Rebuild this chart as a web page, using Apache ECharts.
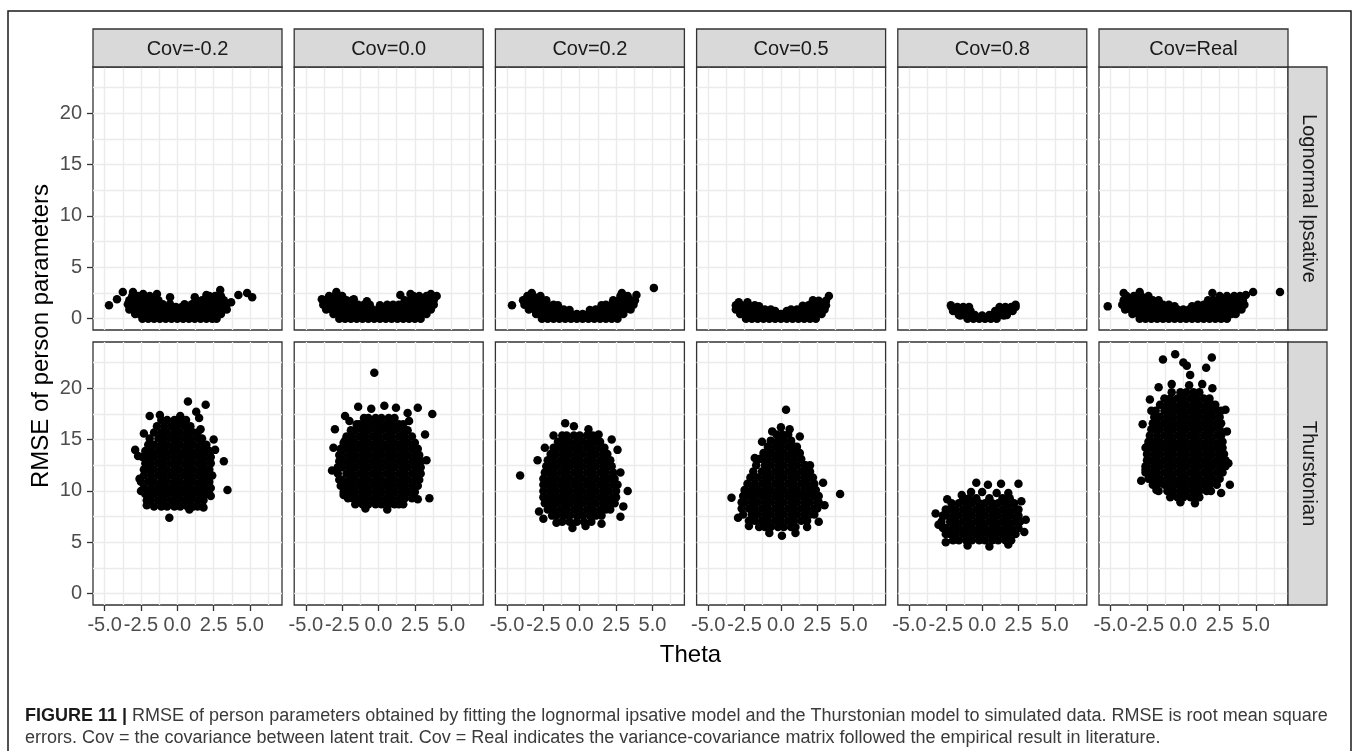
<!DOCTYPE html>
<html>
<head>
<meta charset="utf-8">
<script src="https://cdn.jsdelivr.net/npm/echarts@6/dist/echarts.min.js"></script>
<style>
html, body { margin: 0; padding: 0; background: #fff; }
#chart { width: 1355px; height: 751px; }
</style>
</head>
<body>
<div id="chart"></div>
<script>
// ---- facet labels and axis ticks ----
const covLabels = ['Cov=-0.2', 'Cov=0.0', 'Cov=0.2', 'Cov=0.5', 'Cov=0.8', 'Cov=Real'];
const modelLabels = ['Lognormal Ipsative', 'Thurstonian'];
const xTickValues = [-5, -2.5, 0, 2.5, 5];
const yTickValues = [0, 5, 10, 15, 20];
const xGridValues = [-5, -3.75, -2.5, -1.25, 0, 1.25, 2.5, 3.75, 5, 6.25];
const yGridValues = [0, 2.5, 5, 7.5, 10, 12.5, 15, 17.5, 20, 22.5];
const xRange = [-5.8, 7.2];
const yRange = [-1.1, 24.5];

// ---- Lognormal ipsative: dense band as rows [rmse, theta, theta, ...] plus loose points [theta, rmse] ----
const lognormalCovM02Rows = [
  [0.0, -2.4, -2.0, -1.6, -1.2, -0.8, -0.4, 0.0, 0.4, 0.8, 1.2, 1.6, 2.0, 2.4, 2.7],
  [0.45, -2.9, -2.6, -2.2, -1.8, -1.4, -1.0, -0.6, -0.2, 0.2, 0.6, 1.0, 1.4, 1.8, 2.2, 2.6, 3.0],
  [0.9, -3.3, -2.9, -2.5, -2.1, -1.7, -1.3, -0.9, -0.5, -0.1, 0.3, 0.7, 1.1, 1.5, 1.9, 2.3, 2.7, 3.1, 3.4],
  [1.15, -0.9, -0.5, -0.1, 0.3, 0.7, 1.1],
  [1.4, -3.4, -3.0, -2.6, -2.2, -1.8, -1.4, -1.0, -0.5, 0.5, 1.0, 1.4, 1.8, 2.2, 2.6, 3.0, 3.4],
  [1.8, -3.3, -2.9, -2.5, -2.1, -1.7, -1.3, 1.3, 1.7, 2.1, 2.5, 2.9, 3.2],
  [2.2, -3.1, -2.7, -2.3, -1.9, 2.2, 2.6, 3.0]
];
const lognormalCovM02Loose = [[-4.7, 1.3], [-4.15, 1.9], [-3.75, 2.6], [-3.05, 2.6], [-2.35, 2.4], [-1.4, 2.4], [-0.5, 2.1], [2.95, 2.8], [3.7, 1.6], [4.2, 2.3], [4.8, 2.5], [5.15, 2.1], [1.2, 2.1], [2.0, 2.3]];

const lognormalCov00Rows = [
  [0.0, -2.7, -2.3, -1.9, -1.5, -1.1, -0.7, -0.3, 0.1, 0.5, 0.9, 1.3, 1.7, 2.1, 2.5, 2.9],
  [0.45, -3.1, -2.7, -2.3, -1.9, -1.5, -1.1, -0.7, -0.3, 0.1, 0.5, 0.9, 1.3, 1.7, 2.1, 2.5, 2.9, 3.3],
  [0.9, -3.6, -3.2, -2.8, -2.4, -2.0, -1.6, -1.2, -0.8, -0.4, 0.0, 0.4, 0.8, 1.2, 1.6, 2.0, 2.4, 2.8, 3.2, 3.6],
  [1.35, -3.8, -3.4, -3.0, -2.6, -2.2, -1.8, -1.4, -1.0, -0.6, 0.6, 1.0, 1.4, 1.8, 2.2, 2.6, 3.0, 3.4, 3.8],
  [1.8, -3.8, -3.4, -3.0, -2.6, -2.2, -1.8, 1.8, 2.2, 2.6, 3.0, 3.4, 3.8],
  [2.2, -3.4, -3.0, -2.5, 2.4, 2.8, 3.3]
];
const lognormalCov00Loose = [[-2.9, 2.6], [-1.7, 1.9], [-0.8, 1.7], [0.1, 1.3], [1.5, 2.3], [2.2, 2.4], [3.6, 2.4], [4.0, 2.2], [-3.9, 1.9]];

const lognormalCov02Rows = [
  [0.0, -2.6, -2.2, -1.8, -1.4, -1.0, -0.6, -0.2, 0.2, 0.6, 1.0, 1.4, 1.8, 2.2, 2.6],
  [0.45, -3.0, -2.6, -2.2, -1.8, -1.4, -1.0, -0.6, -0.2, 0.2, 0.6, 1.0, 1.4, 1.8, 2.2, 2.6, 3.0],
  [0.9, -3.5, -3.1, -2.7, -2.3, -1.9, -1.5, -1.1, 1.1, 1.5, 1.9, 2.3, 2.7, 3.1, 3.5],
  [1.35, -3.8, -3.4, -3.0, -2.6, -2.2, -1.8, 1.8, 2.2, 2.6, 3.0, 3.4, 3.7],
  [1.8, -3.9, -3.5, -3.1, -2.7, -2.3, 2.3, 2.7, 3.1, 3.5, 3.8],
  [2.2, -3.6, -3.2, -2.7, 2.8, 3.3]
];
const lognormalCov02Loose = [[-4.66, 1.3], [5.1, 3.0], [-3.3, 2.5], [3.9, 2.3], [-0.7, 0.85], [0.7, 0.85], [-1.5, 1.3], [1.5, 1.3], [2.9, 2.5]];

const lognormalCov05Rows = [
  [0.0, -2.4, -2.0, -1.6, -1.2, -0.8, -0.4, 0.0, 0.4, 0.8, 1.2, 1.6, 2.0, 2.4],
  [0.45, -2.8, -2.4, -2.0, -1.6, -1.2, -0.8, -0.4, 0.0, 0.4, 0.8, 1.2, 1.6, 2.0, 2.4, 2.8],
  [0.9, -3.1, -2.7, -2.3, -1.9, -1.5, -1.1, -0.7, 0.7, 1.1, 1.5, 1.9, 2.3, 2.7, 3.0],
  [1.3, -3.1, -2.7, -2.3, -1.8, 1.9, 2.3, 2.7, 3.1],
  [1.75, 2.6, 3.1]
];
const lognormalCov05Loose = [[3.3, 2.2], [-2.9, 1.6], [-0.4, 0.75], [0.4, 0.75], [-1.5, 1.2], [1.5, 1.25], [2.2, 1.8], [-2.3, 1.6]];

const lognormalCov08Rows = [
  [0.0, -1.0, -0.6, -0.2, 0.2, 0.6, 1.0],
  [0.35, -1.6, -1.3, -0.9, -0.5, 0.5, 0.9, 1.3, 1.7],
  [0.75, -2.0, -1.6, -1.2, -0.8, 0.9, 1.3, 1.7, 2.1],
  [1.15, -2.1, -1.7, -1.3, -0.9, 1.2, 1.6, 2.0, 2.3]
];
const lognormalCov08Loose = [[2.3, 1.35], [-0.5, 0.2], [0.5, 0.25], [-1.5, 0.3], [1.5, 0.3], [-2.15, 1.3], [0.0, 0.3]];

const lognormalCovRealRows = [
  [0.0, -3.0, -2.6, -2.2, -1.8, -1.4, -1.0, -0.6, -0.2, 0.2, 0.6, 1.0, 1.4, 1.8, 2.2, 2.6, 3.0],
  [0.45, -3.5, -3.1, -2.7, -2.3, -1.9, -1.5, -1.1, -0.7, -0.3, 0.1, 0.5, 0.9, 1.3, 1.7, 2.1, 2.5, 2.9, 3.3, 3.6],
  [0.9, -4.0, -3.6, -3.2, -2.8, -2.4, -2.0, -1.6, -1.2, -0.8, -0.4, 0.0, 0.4, 0.8, 1.2, 1.6, 2.0, 2.4, 2.8, 3.2, 3.6, 4.0],
  [1.35, -4.2, -3.8, -3.4, -3.0, -2.6, -2.2, -1.8, -1.4, -1.0, 1.0, 1.4, 1.8, 2.2, 2.6, 3.0, 3.4, 3.8, 4.2],
  [1.8, -4.1, -3.7, -3.3, -2.9, -2.5, -2.1, -1.7, 1.7, 2.1, 2.5, 2.9, 3.3, 3.7, 4.1],
  [2.2, -3.9, -3.4, -2.9, -2.4, 2.5, 3.0, 3.5, 3.9]
];
const lognormalCovRealLoose = [[-5.2, 1.2], [4.8, 2.6], [6.65, 2.6], [-4.1, 2.5], [4.3, 2.3], [-0.6, 1.2], [0.6, 1.2], [-3.0, 2.6], [2.0, 2.5]];

// ---- Thurstonian: dense clouds as rows [rmse, theta, ...] plus loose points [theta, rmse] ----
const thurstonianCovM02Rows = [
  [8.5, -1.6, -1.1, -0.7, -0.2, 0.2, 0.7, 1.1, 1.4],
  [9.1, -2.1, -1.8, -1.3, -0.9, -0.4, 0.0, 0.5, 0.9, 1.4, 1.8],
  [9.7, -2.2, -2.0, -1.6, -1.1, -0.7, -0.2, 0.2, 0.7, 1.1, 1.6, 2.0, 2.2],
  [10.3, -2.3, -1.8, -1.3, -0.9, -0.4, 0.0, 0.5, 0.9, 1.4, 1.8, 2.3],
  [10.9, -2.5, -2.0, -1.6, -1.1, -0.7, -0.2, 0.2, 0.7, 1.1, 1.6, 2.0, 2.2],
  [11.5, -2.3, -1.8, -1.3, -0.9, -0.4, 0.0, 0.5, 0.9, 1.4, 1.8, 2.1],
  [12.1, -2.3, -2.0, -1.6, -1.1, -0.7, -0.2, 0.2, 0.7, 1.1, 1.6, 2.0, 2.2],
  [12.7, -2.2, -1.8, -1.3, -0.9, -0.4, 0.0, 0.5, 0.9, 1.4, 1.8, 2.3],
  [13.3, -2.4, -2.0, -1.6, -1.1, -0.7, -0.2, 0.2, 0.7, 1.1, 1.6, 2.0, 2.3],
  [13.9, -2.2, -1.8, -1.3, -0.9, -0.4, 0.0, 0.5, 0.9, 1.4, 1.8, 2.2],
  [14.5, -2.0, -1.6, -1.1, -0.7, -0.2, 0.2, 0.7, 1.1, 1.6, 2.0],
  [15.1, -1.9, -1.3, -0.9, -0.4, 0.0, 0.5, 0.9, 1.4, 1.7],
  [15.7, -1.6, -1.1, -0.7, -0.2, 0.2, 0.7, 1.1, 1.4],
  [16.3, -1.4, -0.9, -0.4, 0.0, 0.5, 0.9],
  [16.9, -1.1, -0.7, -0.2, 0.2, 0.6]
];
const thurstonianCovM02Loose = [[0.73, 18.7], [1.95, 18.4], [1.3, 17.7], [1.5, 17.1], [-1.9, 17.3], [-2.9, 14.0], [-2.7, 13.4], [2.6, 14.0], [2.5, 15.0], [3.2, 12.9], [3.45, 10.1], [-0.55, 7.4], [1.8, 8.4], [0.83, 8.2], [-2.1, 8.6], [-2.6, 11.2], [2.4, 11.5], [-2.3, 15.6], [-1.2, 17.4], [0.2, 17.3], [1.6, 16.0], [2.3, 9.5], [-2.5, 10.0]];

const thurstonianCov00Rows = [
  [8.7, -1.6, -1.1, -0.7, -0.2, 0.2, 0.7, 1.1, 1.4],
  [9.3, -2.1, -1.8, -1.3, -0.9, -0.4, 0.0, 0.5, 0.9, 1.4, 1.8, 2.3],
  [9.9, -2.4, -2.0, -1.6, -1.1, -0.7, -0.2, 0.2, 0.7, 1.1, 1.6, 2.0, 2.5],
  [10.5, -2.6, -2.2, -1.8, -1.3, -0.9, -0.4, 0.0, 0.5, 0.9, 1.4, 1.8, 2.3, 2.7],
  [11.1, -2.7, -2.5, -2.0, -1.6, -1.1, -0.7, -0.2, 0.2, 0.7, 1.1, 1.6, 2.0, 2.5, 2.8],
  [11.7, -2.8, -2.2, -1.8, -1.3, -0.9, -0.4, 0.0, 0.5, 0.9, 1.4, 1.8, 2.3, 2.7, 2.9],
  [12.3, -2.8, -2.5, -2.0, -1.6, -1.1, -0.7, -0.2, 0.2, 0.7, 1.1, 1.6, 2.0, 2.5, 2.9],
  [12.9, -2.7, -2.2, -1.8, -1.3, -0.9, -0.4, 0.0, 0.5, 0.9, 1.4, 1.8, 2.3, 2.7, 2.9],
  [13.5, -2.7, -2.5, -2.0, -1.6, -1.1, -0.7, -0.2, 0.2, 0.7, 1.1, 1.6, 2.0, 2.5, 2.8],
  [14.1, -2.6, -2.2, -1.8, -1.3, -0.9, -0.4, 0.0, 0.5, 0.9, 1.4, 1.8, 2.3, 2.7],
  [14.7, -2.4, -2.0, -1.6, -1.1, -0.7, -0.2, 0.2, 0.7, 1.1, 1.6, 2.0, 2.5],
  [15.3, -2.2, -1.8, -1.3, -0.9, -0.4, 0.0, 0.5, 0.9, 1.4, 1.8, 2.3],
  [15.9, -1.9, -1.6, -1.1, -0.7, -0.2, 0.2, 0.7, 1.1, 1.6, 2.0],
  [16.5, -1.5, -1.3, -0.9, -0.4, 0.0, 0.5, 0.9, 1.4, 1.7],
  [17.1, -1.0, -0.7, -0.2, 0.2, 0.7, 1.1]
];
const thurstonianCov00Loose = [[-0.29, 21.5], [-3.0, 16.0], [-2.3, 17.3], [-2.3, 14.9], [-2.0, 16.8], [-3.1, 14.2], [-1.4, 18.2], [-0.5, 18.0], [0.4, 18.3], [1.2, 18.1], [2.7, 18.1], [2.0, 17.6], [3.7, 17.5], [3.2, 15.5], [3.3, 13.0], [3.5, 9.3], [2.7, 9.2], [1.7, 8.7], [-2.4, 9.6], [-3.2, 12.0], [-0.9, 8.3], [0.6, 8.2], [2.1, 16.8]];

const thurstonianCov02Rows = [
  [7.0, -1.2, -0.7, -0.2, 0.3, 0.8],
  [7.6, -1.9, -1.6, -1.1, -0.7, -0.2, 0.2, 0.7, 1.1, 1.5],
  [8.2, -2.2, -1.8, -1.3, -0.9, -0.4, 0.0, 0.5, 0.9, 1.4, 1.8, 2.1],
  [8.8, -2.4, -2.0, -1.6, -1.1, -0.7, -0.2, 0.2, 0.7, 1.1, 1.6, 2.0, 2.4],
  [9.4, -2.5, -2.2, -1.8, -1.3, -0.9, -0.4, 0.0, 0.5, 0.9, 1.4, 1.8, 2.3, 2.5],
  [10.0, -2.5, -2.0, -1.6, -1.1, -0.7, -0.2, 0.2, 0.7, 1.1, 1.6, 2.0, 2.5],
  [10.6, -2.5, -2.2, -1.8, -1.3, -0.9, -0.4, 0.0, 0.5, 0.9, 1.4, 1.8, 2.3, 2.6],
  [11.2, -2.5, -2.0, -1.6, -1.1, -0.7, -0.2, 0.2, 0.7, 1.1, 1.6, 2.0, 2.4],
  [11.8, -2.4, -2.2, -1.8, -1.3, -0.9, -0.4, 0.0, 0.5, 0.9, 1.4, 1.8, 2.3],
  [12.4, -2.3, -2.0, -1.6, -1.1, -0.7, -0.2, 0.2, 0.7, 1.1, 1.6, 2.0, 2.2],
  [13.0, -2.2, -1.8, -1.3, -0.9, -0.4, 0.0, 0.5, 0.9, 1.4, 1.8, 2.1],
  [13.6, -2.0, -1.6, -1.1, -0.7, -0.2, 0.2, 0.7, 1.1, 1.6, 1.9],
  [14.2, -1.8, -1.3, -0.9, -0.4, 0.0, 0.5, 0.9, 1.4, 1.7],
  [14.8, -1.5, -1.1, -0.7, -0.2, 0.2, 0.7, 1.1, 1.4],
  [15.4, -1.2, -0.9, -0.4, 0.0, 0.5, 0.9]
];
const thurstonianCov02Loose = [[-4.1, 11.5], [-1.0, 16.6], [-0.4, 16.3], [0.6, 16.0], [1.3, 15.5], [-2.4, 14.2], [-2.9, 13.0], [2.6, 14.0], [3.3, 10.0], [3.0, 8.5], [2.8, 7.5], [-2.8, 8.0], [-2.5, 7.3], [-0.5, 6.4], [0.4, 6.6], [1.5, 6.8], [-1.6, 6.9], [2.2, 15.0], [-1.8, 15.4], [2.8, 11.8]];

const thurstonianCov05Rows = [
  [6.5, -1.5, -1.1, -0.7, -0.2, 0.2, 0.7, 1.0],
  [7.1, -2.2, -1.8, -1.3, -0.9, -0.4, 0.0, 0.5, 0.9, 1.4, 1.8],
  [7.7, -2.6, -2.0, -1.6, -1.1, -0.7, -0.2, 0.2, 0.7, 1.1, 1.6, 2.0, 2.3],
  [8.3, -2.7, -2.2, -1.8, -1.3, -0.9, -0.4, 0.0, 0.5, 0.9, 1.4, 1.8, 2.3, 2.5],
  [8.9, -2.7, -2.5, -2.0, -1.6, -1.1, -0.7, -0.2, 0.2, 0.7, 1.1, 1.6, 2.0, 2.5, 2.6],
  [9.5, -2.6, -2.2, -1.8, -1.3, -0.9, -0.4, 0.0, 0.5, 0.9, 1.4, 1.8, 2.3, 2.6],
  [10.1, -2.5, -2.0, -1.6, -1.1, -0.7, -0.2, 0.2, 0.7, 1.1, 1.6, 2.0, 2.4],
  [10.7, -2.3, -1.8, -1.3, -0.9, -0.4, 0.0, 0.5, 0.9, 1.4, 1.8, 2.3],
  [11.3, -2.1, -1.6, -1.1, -0.7, -0.2, 0.2, 0.7, 1.1, 1.6, 2.0, 2.2],
  [11.9, -1.9, -1.3, -0.9, -0.4, 0.0, 0.5, 0.9, 1.4, 1.8, 2.0],
  [12.5, -1.7, -1.1, -0.7, -0.2, 0.2, 0.7, 1.1, 1.6, 1.7],
  [13.1, -1.5, -1.3, -0.9, -0.4, 0.0, 0.5, 0.9, 1.4],
  [13.7, -1.2, -0.7, -0.2, 0.2, 0.7, 1.1, 1.3],
  [14.3, -0.9, -0.4, 0.0, 0.5, 0.9, 1.1],
  [14.9, -0.7, -0.2, 0.2, 0.7],
  [15.5, -0.3, 0.1, 0.5]
];
const thurstonianCov05Loose = [[0.35, 17.9], [0.0, 16.2], [0.6, 16.0], [-0.6, 15.8], [1.3, 15.3], [-1.3, 14.8], [-3.4, 9.35], [4.07, 9.7], [3.0, 8.6], [0.07, 5.65], [2.9, 10.8], [-2.95, 7.4], [-2.2, 6.6], [1.8, 6.5], [2.6, 7.0], [-1.8, 13.2], [2.0, 12.5], [-0.8, 5.9], [1.0, 5.9]];

const thurstonianCov08Rows = [
  [5.2, -2.0, -1.6, -1.1, -0.7, -0.2, 0.2, 0.7, 1.1, 1.6, 2.0],
  [5.8, -2.5, -2.2, -1.8, -1.3, -0.9, -0.4, 0.0, 0.5, 0.9, 1.4, 1.8, 2.3],
  [6.4, -2.7, -2.5, -2.0, -1.6, -1.1, -0.7, -0.2, 0.2, 0.7, 1.1, 1.6, 2.0, 2.5],
  [7.0, -2.8, -2.2, -1.8, -1.3, -0.9, -0.4, 0.0, 0.5, 0.9, 1.4, 1.8, 2.3, 2.6],
  [7.6, -2.7, -2.5, -2.0, -1.6, -1.1, -0.7, -0.2, 0.2, 0.7, 1.1, 1.6, 2.0, 2.5],
  [8.2, -2.5, -2.2, -1.8, -1.3, -0.9, -0.4, 0.0, 0.5, 0.9, 1.4, 1.8, 2.3, 2.5],
  [8.8, -2.1, -1.6, -1.1, -0.7, -0.2, 0.2, 0.7, 1.1, 1.6, 2.0, 2.2],
  [9.3, -1.3, -0.9, -0.4, 0.5, 1.4, 1.9]
];
const thurstonianCov08Loose = [[-0.4, 10.8], [0.4, 10.6], [1.3, 10.7], [2.5, 10.7], [-2.4, 9.2], [-1.4, 9.6], [-0.76, 9.9], [0.0, 9.9], [1.0, 9.8], [1.8, 9.8], [-3.2, 7.8], [-3.0, 6.7], [3.0, 7.2], [2.9, 6.0], [-1.0, 4.7], [0.5, 4.6], [1.8, 4.8], [-2.5, 5.0], [2.7, 9.0]];

const thurstonianCovRealRows = [
  [9.4, -0.9, -0.4, 0.0, 0.5, 0.9, 1.1],
  [10.0, -1.7, -1.1, -0.7, -0.2, 0.2, 0.7, 1.1, 1.6, 1.9],
  [10.6, -2.1, -1.8, -1.3, -0.9, -0.4, 0.0, 0.5, 0.9, 1.4, 1.8, 2.3],
  [11.2, -2.4, -2.0, -1.6, -1.1, -0.7, -0.2, 0.2, 0.7, 1.1, 1.6, 2.0, 2.5],
  [11.8, -2.6, -2.2, -1.8, -1.3, -0.9, -0.4, 0.0, 0.5, 0.9, 1.4, 1.8, 2.3, 2.7],
  [12.4, -2.6, -2.5, -2.0, -1.6, -1.1, -0.7, -0.2, 0.2, 0.7, 1.1, 1.6, 2.0, 2.5, 2.9],
  [13.0, -2.5, -2.2, -1.8, -1.3, -0.9, -0.4, 0.0, 0.5, 0.9, 1.4, 1.8, 2.3, 2.7, 2.9],
  [13.6, -2.5, -2.0, -1.6, -1.1, -0.7, -0.2, 0.2, 0.7, 1.1, 1.6, 2.0, 2.5, 2.8],
  [14.2, -2.6, -2.2, -1.8, -1.3, -0.9, -0.4, 0.0, 0.5, 0.9, 1.4, 1.8, 2.3, 2.7],
  [14.8, -2.4, -2.0, -1.6, -1.1, -0.7, -0.2, 0.2, 0.7, 1.1, 1.6, 2.0, 2.5, 2.7],
  [15.4, -2.3, -1.8, -1.3, -0.9, -0.4, 0.0, 0.5, 0.9, 1.4, 1.8, 2.3, 2.6],
  [16.0, -2.2, -2.0, -1.6, -1.1, -0.7, -0.2, 0.2, 0.7, 1.1, 1.6, 2.0, 2.5],
  [16.6, -2.1, -1.8, -1.3, -0.9, -0.4, 0.0, 0.5, 0.9, 1.4, 1.8, 2.3, 2.6],
  [17.2, -2.0, -1.6, -1.1, -0.7, -0.2, 0.2, 0.7, 1.1, 1.6, 2.0, 2.5],
  [17.8, -1.9, -1.3, -0.9, -0.4, 0.0, 0.5, 0.9, 1.4, 1.8, 2.3, 2.6],
  [18.4, -1.6, -1.1, -0.7, -0.2, 0.2, 0.7, 1.1, 1.6, 2.0, 2.2],
  [19.0, -1.3, -0.9, -0.4, 0.0, 0.5, 0.9, 1.4, 1.8],
  [19.6, -0.8, -0.2, 0.2, 0.7, 1.1]
];
const thurstonianCovRealLoose = [[-1.4, 22.8], [-0.56, 23.3], [0.0, 22.5], [0.24, 22.2], [0.47, 21.3], [1.96, 23.0], [1.57, 22.0], [-1.7, 20.1], [-0.8, 20.4], [0.4, 20.3], [1.3, 20.4], [2.0, 20.0], [-2.3, 18.9], [-2.2, 17.8], [-2.5, 14.3], [-2.6, 12.1], [2.9, 17.9], [3.1, 12.7], [3.0, 15.8], [-1.85, 10.1], [-2.9, 11.0], [-0.2, 8.9], [0.8, 8.8], [2.6, 9.8], [3.2, 10.6], [-2.8, 16.5]];

// facet order: row 0 = lognormal ipsative, row 1 = Thurstonian; columns follow covLabels
const panelData = [
  [[lognormalCovM02Rows, lognormalCovM02Loose], [lognormalCov00Rows, lognormalCov00Loose], [lognormalCov02Rows, lognormalCov02Loose],
   [lognormalCov05Rows, lognormalCov05Loose], [lognormalCov08Rows, lognormalCov08Loose], [lognormalCovRealRows, lognormalCovRealLoose]],
  [[thurstonianCovM02Rows, thurstonianCovM02Loose], [thurstonianCov00Rows, thurstonianCov00Loose], [thurstonianCov02Rows, thurstonianCov02Loose],
   [thurstonianCov05Rows, thurstonianCov05Loose], [thurstonianCov08Rows, thurstonianCov08Loose], [thurstonianCovRealRows, thurstonianCovRealLoose]]
];

// ---- layout ----
const PANEL_LEFT = 93, COL_STEP = 201.2, PANEL_W = 189, PANEL_H = 263;
const ROW_TOP = [67, 342];
const STRIP_TOP = 29, STRIP_H = 38, SIDE_STRIP_W = 39;
const FONT = '"Liberation Sans", Arial, sans-serif';
const INK = '#333333';

function toPoints(rows, loose) {
  const pts = [];
  rows.forEach(function (r) {
    for (let k = 1; k < r.length; k++) pts.push([r[k], r[0]]);
  });
  loose.forEach(function (p) { pts.push([p[0], p[1]]); });
  return pts;
}

const grids = [], xAxes = [], yAxes = [], series = [], graphics = [];

for (let r = 0; r < 2; r++) {
  for (let c = 0; c < 6; c++) {
    const idx = r * 6 + c;
    const left = PANEL_LEFT + c * COL_STEP;
    grids.push({
      left: left, top: ROW_TOP[r], width: PANEL_W, height: PANEL_H,
      show: true, backgroundColor: '#ffffff', borderColor: INK, borderWidth: 1.3, z: 0
    });
    xAxes.push({
      gridIndex: idx, type: 'value', min: xRange[0], max: xRange[1], position: 'bottom',
      axisLine: { show: false, onZero: false },
      splitLine: { show: false },
      axisTick: { show: r === 1, customValues: xTickValues, length: 6, lineStyle: { color: INK, width: 1.3 } },
      axisLabel: {
        show: r === 1, customValues: xTickValues, margin: 10,
        fontFamily: FONT, fontSize: 20, color: '#4d4d4d',
        formatter: function (v) { return v.toFixed(1); }
      }
    });
    yAxes.push({
      gridIndex: idx, type: 'value', min: yRange[0], max: yRange[1], position: 'left',
      axisLine: { show: false, onZero: false },
      splitLine: { show: false },
      axisTick: { show: c === 0, customValues: yTickValues, length: 6, lineStyle: { color: INK, width: 1.3 } },
      axisLabel: {
        show: c === 0, customValues: yTickValues, margin: 11,
        fontFamily: FONT, fontSize: 20, color: '#4d4d4d',
        formatter: function (v) { return String(v); }
      }
    });
    // panel grid lines
    series.push({
      type: 'scatter', xAxisIndex: idx, yAxisIndex: idx, data: [], silent: true, z: 1,
      markLine: {
        silent: true, symbol: 'none', z: 1, animation: false,
        label: { show: false },
        lineStyle: { color: '#ebebeb', width: 1.4, type: 'solid' },
        emphasis: { disabled: true },
        data: xGridValues.map(function (v) { return { xAxis: v }; })
          .concat(yGridValues.map(function (v) { return { yAxis: v }; }))
      }
    });
    // person-level RMSE points
    series.push({
      type: 'scatter', xAxisIndex: idx, yAxisIndex: idx, z: 3,
      symbol: 'circle', symbolSize: 8.5,
      itemStyle: { color: '#000000', opacity: 1 },
      silent: true, animation: false,
      data: toPoints(panelData[r][c][0], panelData[r][c][1])
    });
  }
}

// top strips
covLabels.forEach(function (label, c) {
  const left = PANEL_LEFT + c * COL_STEP;
  graphics.push({
    type: 'rect', shape: { x: left, y: STRIP_TOP, width: PANEL_W, height: STRIP_H }, z: 10,
    style: { fill: '#d9d9d9', stroke: INK, lineWidth: 1.3 }
  });
  graphics.push({
    type: 'text', x: left + PANEL_W / 2, y: STRIP_TOP + STRIP_H / 2 + 1, z: 11,
    style: { text: label, fontFamily: FONT, fontSize: 20, fill: '#1a1a1a', align: 'center', verticalAlign: 'middle' }
  });
});

// side strips
const sideLeft = PANEL_LEFT + 5 * COL_STEP + PANEL_W;
modelLabels.forEach(function (label, r) {
  graphics.push({
    type: 'rect', shape: { x: sideLeft, y: ROW_TOP[r], width: SIDE_STRIP_W, height: PANEL_H }, z: 10,
    style: { fill: '#d9d9d9', stroke: INK, lineWidth: 1.3 }
  });
  graphics.push({
    type: 'text', x: sideLeft + SIDE_STRIP_W / 2 + 1, y: ROW_TOP[r] + PANEL_H / 2, rotation: -Math.PI / 2, z: 11,
    style: { text: label, fontFamily: FONT, fontSize: 20, fill: '#1a1a1a', align: 'center', verticalAlign: 'middle' }
  });
});

// axis titles
graphics.push({
  type: 'text', x: 41, y: (ROW_TOP[0] + ROW_TOP[1] + PANEL_H) / 2, rotation: Math.PI / 2, z: 11,
  style: { text: 'RMSE of person parameters', fontFamily: FONT, fontSize: 24, fill: '#000', align: 'center', verticalAlign: 'middle' }
});
graphics.push({
  type: 'text', x: PANEL_LEFT + (5 * COL_STEP + PANEL_W) / 2, y: 655, z: 11,
  style: { text: 'Theta', fontFamily: FONT, fontSize: 24, fill: '#000', align: 'center', verticalAlign: 'middle' }
});

// figure frame and caption
graphics.push({
  type: 'rect', shape: { x: 8, y: 11, width: 1343, height: 800 }, z: 12,
  style: { fill: 'none', stroke: '#1a1a1a', lineWidth: 1.5 }
});
const captionLines = [
  '{b|FIGURE 11 |} RMSE of person parameters obtained by fitting the lognormal ipsative model and the Thurstonian model to simulated data. RMSE is root mean square',
  'errors. Cov = the covariance between latent trait. Cov = Real indicates the variance-covariance matrix followed the empirical result in literature.'
];
captionLines.forEach(function (line, i) {
  graphics.push({
    type: 'text', x: 25, y: 716 + i * 22, z: 12,
    style: {
      text: line, fontFamily: FONT, fontSize: 18, fill: '#3a3a3a', align: 'left', verticalAlign: 'middle',
      rich: { b: { fontFamily: FONT, fontSize: 18, fontWeight: 'bold', fill: '#1a1a1a' } }
    }
  });
});

const chart = echarts.init(document.getElementById('chart'), null, { renderer: 'canvas' });
chart.setOption({
  animation: false,
  backgroundColor: '#ffffff',
  grid: grids,
  xAxis: xAxes,
  yAxis: yAxes,
  series: series,
  graphic: graphics
});
</script>
</body>
</html>
